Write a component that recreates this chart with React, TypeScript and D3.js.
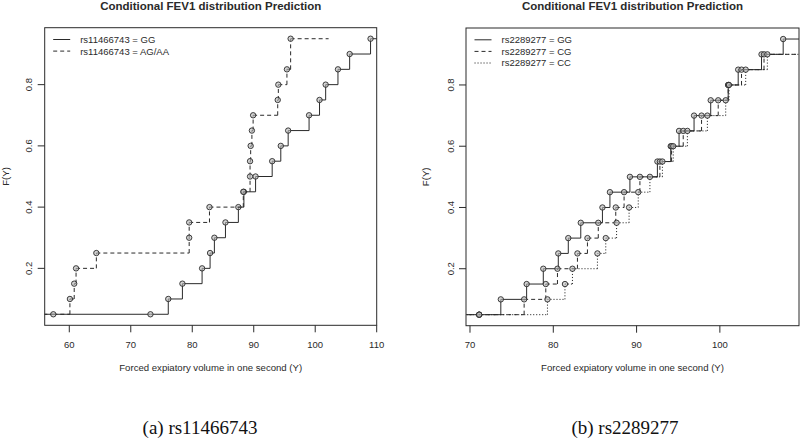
import React from 'react';
import * as d3 from 'd3';

// ---------- Data ----------
const panelTitle = 'Conditional FEV1 distribution Prediction';
const xAxisTitle = 'Forced expiatory volume in one second (Y)';
const yAxisTitle = 'F(Y)';

// Left panel: rs11466743
const leftXTicks = [60, 70, 80, 90, 100, 110];
const leftLegend = ['rs11466743 = GG', 'rs11466743 = AG/AA'];
const leftProbsGG = [0.05, 0.10, 0.15, 0.20, 0.25, 0.30, 0.35, 0.40, 0.45, 0.50, 0.55, 0.60, 0.65, 0.70, 0.75, 0.80, 0.85, 0.90, 0.95];
const leftFevGG = [73.2, 76.1, 78.4, 81.6, 82.9, 83.6, 85.4, 87.5, 88.4, 90.3, 93.0, 94.4, 95.6, 99.0, 100.7, 101.7, 103.7, 105.6, 109.0];
const leftProbsAG = [0.05, 0.10, 0.15, 0.20, 0.25, 0.30, 0.35, 0.40, 0.45, 0.50, 0.55, 0.60, 0.65, 0.70, 0.75, 0.80, 0.85, 0.95];
const leftFevAG = [57.4, 60.1, 60.8, 61.1, 64.4, 79.5, 79.5, 82.8, 88.3, 89.4, 89.4, 89.5, 89.7, 89.9, 93.9, 94.0, 95.4, 96.0];

// Right panel: rs2289277
const rightXTicks = [70, 80, 90, 100];
const rightLegend = ['rs2289277 = GG', 'rs2289277 = CG', 'rs2289277 = CC'];
const rightProbs = [0.05, 0.10, 0.15, 0.20, 0.25, 0.30, 0.35, 0.40, 0.45, 0.50, 0.55, 0.60, 0.65, 0.70, 0.75, 0.80, 0.85, 0.90, 0.95];
const rightFevGG = [71.1, 73.7, 76.8, 78.8, 80.6, 81.8, 83.3, 85.9, 86.8, 89.2, 92.5, 94.1, 95.1, 96.9, 98.9, 101.0, 102.2, 105.0, 107.6];
const rightFevCG = [71.1, 76.5, 79.1, 80.5, 82.9, 84.1, 85.4, 87.5, 88.5, 90.4, 92.8, 94.2, 95.6, 97.8, 99.8, 101.0, 102.6, 105.3, 110.6];
const rightFevCC = [71.1, 79.3, 81.4, 82.3, 85.3, 86.3, 87.6, 89.1, 90.2, 91.6, 93.1, 94.4, 96.1, 98.5, 100.7, 101.1, 103.1, 105.7, 111.8];

const yTicks = [0.2, 0.4, 0.6, 0.8];
const captions = ['(a) rs11466743', '(b) rs2289277'];

// ---------- Styles ----------
const INK = '#2a2a2a';
const SANS = '"Liberation Sans", Arial, Helvetica, sans-serif';
const SERIF = '"Liberation Serif", "Times New Roman", serif';
const DASHES: Record<string, string | undefined> = { solid: undefined, dashed: '4,3', dotted: '1.1,1.9' };

type Series = { xs: number[]; ps: number[]; style: string; full: boolean };

function median(a: number[]) {
  const s = [...a].sort((p, q) => p - q);
  const m = Math.floor(s.length / 2);
  return s.length % 2 ? s[m] : (s[m - 1] + s[m]) / 2;
}

function StepSeries({ s, x, y }: { s: Series; x: d3.ScaleLinear<number, number>; y: d3.ScaleLinear<number, number> }) {
  const [d0, d1] = x.domain();
  let left: number, right: number;
  if (s.full) {
    left = d0 - 100;
    right = d1 + 100;
  } else {
    const rx = d3.extent(s.xs) as [number, number];
    const diffs = s.xs.slice(1).map((v, i) => v - s.xs[i]);
    const dr = Math.max(0.08 * (rx[1] - rx[0]), median(diffs));
    left = rx[0] - 2 * dr;
    right = rx[1] + 2 * dr;
  }
  const dash = DASHES[s.style];
  const segs: [number, number, number, number][] = [];
  // horizontals
  segs.push([left, s.ps[0], s.xs[0], s.ps[0]]);
  s.xs.forEach((xv, i) => {
    const nx = i < s.xs.length - 1 ? s.xs[i + 1] : right;
    segs.push([xv, s.ps[i], nx, s.ps[i]]);
  });
  // verticals
  s.xs.forEach((xv, i) => {
    if (i > 0) segs.push([xv, s.ps[i - 1], xv, s.ps[i]]);
  });
  return (
    <g>
      {segs.map((g, i) => (
        <line key={i} x1={x(g[0])} y1={y(g[1])} x2={x(g[2])} y2={y(g[3])}
          stroke={INK} strokeWidth={1} strokeDasharray={dash} fill="none" />
      ))}
      {s.xs.map((xv, i) => (
        <circle key={'p' + i} cx={x(xv)} cy={y(s.ps[i])} r={2.7}
          fill="#b8b8b8" fillOpacity={0.6} stroke={INK} strokeWidth={0.9} />
      ))}
    </g>
  );
}

type PanelProps = {
  id: string;
  box: [number, number, number, number]; // x0,y0,x1,y1
  xDomain: [number, number];
  xTicks: number[];
  series: Series[];
  legend: string[];
  legendStyles: string[];
  yLabelX: number;
  yTitleX: number;
  caption: string;
  captionX: number;
};

function Panel(p: PanelProps) {
  const [x0, y0, x1, y1] = p.box;
  const x = d3.scaleLinear().domain(p.xDomain).range([x0, x1]);
  const y = d3.scaleLinear().domain([0.014, 0.986]).range([y1, y0]);
  const cx = (x0 + x1) / 2;
  const cy = (y0 + y1) / 2;
  return (
    <g>
      <defs>
        <clipPath id={p.id}>
          <rect x={x0} y={y0} width={x1 - x0} height={y1 - y0} />
        </clipPath>
      </defs>
      <text x={cx} y={9.5} textAnchor="middle" fontFamily={SANS} fontWeight="bold" fontSize={11.5} fill={INK}>{panelTitle}</text>
      <g clipPath={`url(#${p.id})`}>
        {p.series.map((s, i) => <StepSeries key={i} s={s} x={x} y={y} />)}
      </g>
      <rect x={x0} y={y0} width={x1 - x0} height={y1 - y0} fill="none" stroke={INK} strokeWidth={1} />
      {p.xTicks.map(t => (
        <g key={'xt' + t}>
          <line x1={x(t)} x2={x(t)} y1={y1} y2={y1 + 7} stroke={INK} strokeWidth={1} />
          <text x={x(t)} y={y1 + 22.5} textAnchor="middle" fontFamily={SANS} fontSize={9.5} fill={INK}>{t}</text>
        </g>
      ))}
      {yTicks.map(t => (
        <g key={'yt' + t}>
          <line x1={x0 - 7} x2={x0} y1={y(t)} y2={y(t)} stroke={INK} strokeWidth={1} />
          <text transform={`translate(${p.yLabelX},${y(t)}) rotate(-90)`} textAnchor="middle" fontFamily={SANS} fontSize={9.5} fill={INK}>{t.toFixed(1)}</text>
        </g>
      ))}
      <text x={cx} y={370.5} textAnchor="middle" fontFamily={SANS} fontSize={9.6} fill={INK}>{xAxisTitle}</text>
      <text transform={`translate(${p.yTitleX},${cy}) rotate(-90)`} textAnchor="middle" fontFamily={SANS} fontSize={9.6} fill={INK}>{yAxisTitle}</text>
      {p.legend.map((lab, i) => {
        const ly = y0 + 11.8 + i * 11.6;
        return (
          <g key={'lg' + i}>
            <line x1={x0 + 8.5} x2={x0 + 25.5} y1={ly} y2={ly} stroke={INK} strokeWidth={1} strokeDasharray={DASHES[p.legendStyles[i]]} />
            <text x={x0 + 35.5} y={ly + 3.4} fontFamily={SANS} fontSize={9.5} fill={INK}>{lab}</text>
          </g>
        );
      })}
      <text x={p.captionX} y={434} textAnchor="middle" fontFamily={SERIF} fontSize={19} fill="#111">{p.caption}</text>
    </g>
  );
}

export default function App() {
  const leftSeries: Series[] = [
    { xs: leftFevGG, ps: leftProbsGG, style: 'solid', full: true },
    { xs: leftFevAG, ps: leftProbsAG, style: 'dashed', full: false },
  ];
  const rightSeries: Series[] = [
    { xs: rightFevGG, ps: rightProbs, style: 'solid', full: true },
    { xs: rightFevCG, ps: rightProbs, style: 'dashed', full: false },
    { xs: rightFevCC, ps: rightProbs, style: 'dotted', full: false },
  ];
  return (
    <svg width={800} height={442} style={{ position: 'absolute', left: 0, top: 0, background: '#fff' }}>
      <rect x={0} y={0} width={800} height={442} fill="#fff" />
      <Panel id="clipL" box={[44.7, 27.7, 376.7, 325.3]} xDomain={[56, 110]} xTicks={leftXTicks}
        series={leftSeries} legend={leftLegend} legendStyles={['solid', 'dashed']}
        yLabelX={31.5} yTitleX={9} caption={captions[0]} captionX={200} />
      <Panel id="clipR" box={[466, 28, 799, 325.7]} xDomain={[69.52, 109.5]} xTicks={rightXTicks}
        series={rightSeries} legend={rightLegend} legendStyles={['solid', 'dashed', 'dotted']}
        yLabelX={453.5} yTitleX={429} caption={captions[1]} captionX={625} />
    </svg>
  );
}
